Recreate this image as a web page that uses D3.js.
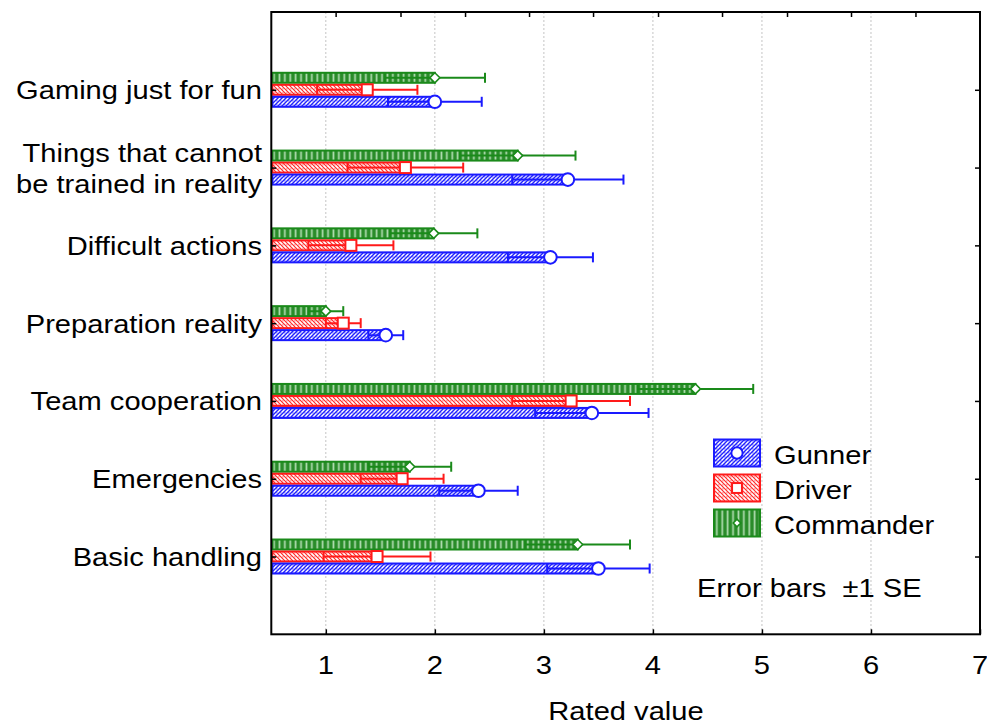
<!DOCTYPE html>
<html><head><meta charset="utf-8">
<script src="https://cdn.jsdelivr.net/npm/d3@7"></script>
<style>
html,body{margin:0;padding:0;background:#fff;}
svg text{font-family:"Liberation Sans",Arial,sans-serif;fill:#000;}
</style></head>
<body>
<svg id="chart" width="987" height="726"></svg>
<script>
// ---- data ----
const categories = ["Gaming just for fun", "Things that cannot\nbe trained in reality", "Difficult actions",
  "Preparation reality", "Team cooperation", "Emergencies", "Basic handling"];
const seriesNames = ["Gunner", "Driver", "Commander"];
const gunnerMean = [2.00, 3.22, 3.06, 1.55, 3.44, 2.40, 3.50];
const gunnerSE   = [0.43, 0.51, 0.39, 0.16, 0.52, 0.36, 0.47];
const driverMean = [1.38, 1.73, 1.23, 1.16, 3.25, 1.70, 1.47];
const driverSE   = [0.46, 0.53, 0.39, 0.16, 0.54, 0.38, 0.49];
const commanderMean = [2.00, 2.76, 1.99, 1.00, 4.39, 1.77, 3.31];
const commanderSE   = [0.46, 0.53, 0.40, 0.16, 0.53, 0.38, 0.48];
const xTicks = [1, 2, 3, 4, 5, 6, 7];
const topTicks = [1.09, 1.685, 2.277, 2.864, 3.451, 4.047, 4.634, 5.23, 5.817, 6.408];
const xTitle = "Rated value";
const noteText = "Error bars  \u00b11 SE";

// ---- layout ----
const svg = d3.select("#chart");
const L = 271.3, R = 980, T = 12, B = 634.3;
const FS = 26, SX = 1.12;
const x = d3.scaleLinear().domain([0.5, 7]).range([L, R]);
const y = d3.scalePoint().domain(categories).range([T, B]).padding(1);
const barH = 12;

const series = [
  {name: "Commander", mean: commanderMean, se: commanderSE, color: "#1a8a1a", fill: "url(#patG)", off: -1, marker: "diamond"},
  {name: "Driver", mean: driverMean, se: driverSE, color: "#ff1a1a", fill: "url(#patR)", off: 0, marker: "square"},
  {name: "Gunner", mean: gunnerMean, se: gunnerSE, color: "#1a1aff", fill: "url(#patB)", off: 1, marker: "circle"}
];

// patterns
const defs = svg.append("defs");
function hatch(id, col, dir, sw) {
  const p = defs.append("pattern").attr("id", id).attr("patternUnits", "userSpaceOnUse")
    .attr("width", 4).attr("height", 4);
  p.append("rect").attr("width", 4).attr("height", 4).attr("fill", "#fff");
  p.append("path").attr("d", dir > 0 ? "M-1,1 L1,-1 M0,4 L4,0 M3,5 L5,3" : "M-1,3 L1,5 M0,0 L4,4 M3,-1 L5,1")
    .attr("stroke", col).attr("stroke-width", sw);
  p.append("rect").attr("x", dir > 0 ? 0.4 : 2.4).attr("y", 0.4).attr("width", 1).attr("height", 1).attr("fill", col);
}
hatch("patB", "#2020ff", 1, 1.4);
hatch("patR", "#ff2a2a", -1, 1.2);
const pg = defs.append("pattern").attr("id", "patG").attr("patternUnits", "userSpaceOnUse")
  .attr("width", 5.4).attr("height", 10);
pg.append("rect").attr("width", 5.4).attr("height", 10).attr("fill", "#2a8c2a");
pg.append("rect").attr("x", 3.2).attr("width", 1.7).attr("height", 10).attr("fill", "#b0dcb0");

function txt(g, s, tx, ty, anchor) {
  return g.append("text").attr("transform", `translate(${tx},${ty}) scale(${SX},1)`)
    .attr("text-anchor", anchor || "start").attr("font-size", FS).text(s);
}

// gridlines
svg.append("g").selectAll("line").data(xTicks.filter(v => v < 7)).join("line")
  .attr("x1", d => x(d)).attr("x2", d => x(d)).attr("y1", T).attr("y2", B)
  .attr("stroke", "#c4c4c4").attr("stroke-width", 1).attr("stroke-dasharray", "2,2");

// bars
const gBars = svg.append("g");
series.forEach(s => {
  categories.forEach((c, i) => {
    const cy = y(c) + s.off * barH;
    gBars.append("rect").attr("x", x(0.5) + 1).attr("y", cy - barH / 2 + 1)
      .attr("width", x(s.mean[i]) - x(0.5) - 1).attr("height", barH - 2)
      .attr("fill", s.fill).attr("stroke", s.color).attr("stroke-width", 2);
  });
});
// error bars
series.forEach(s => {
  categories.forEach((c, i) => {
    const cy = y(c) + s.off * barH;
    const lo = x(s.mean[i] - s.se[i]), hi = x(s.mean[i] + s.se[i]);
    gBars.append("line").attr("x1", lo).attr("x2", hi).attr("y1", cy).attr("y2", cy)
      .attr("stroke", s.color).attr("stroke-width", 2);
    [lo, hi].forEach(px => gBars.append("line").attr("x1", px).attr("x2", px)
      .attr("y1", cy - 5).attr("y2", cy + 5).attr("stroke", s.color).attr("stroke-width", 2));
  });
});
function marker(g, type, cx, cy, col, scale) {
  if (type === "circle") {
    g.append("circle").attr("cx", cx).attr("cy", cy).attr("r", 6.3 * scale)
      .attr("fill", "#fff").attr("stroke", col).attr("stroke-width", 2);
  } else if (type === "square") {
    const h = 5.5 * scale;
    g.append("rect").attr("x", cx - h).attr("y", cy - h).attr("width", 2 * h).attr("height", 2 * h)
      .attr("fill", "#fff").attr("stroke", col).attr("stroke-width", 2);
  } else {
    const h = 5 * scale;
    g.append("path").attr("d", `M${cx - h},${cy} L${cx},${cy - h} L${cx + h},${cy} L${cx},${cy + h} Z`)
      .attr("fill", "#fff").attr("stroke", col).attr("stroke-width", 1.6);
  }
}
series.forEach(s => {
  categories.forEach((c, i) => {
    marker(gBars, s.marker, x(s.mean[i]), y(c) + s.off * barH, s.color, 1);
  });
});

// frame
svg.append("rect").attr("x", L).attr("y", T).attr("width", R - L).attr("height", B - T)
  .attr("fill", "none").attr("stroke", "#000").attr("stroke-width", 2);

// bottom axis ticks (inward) and labels
const xAxis = d3.axisBottom(x).tickValues(xTicks).tickSize(-5).tickFormat(d3.format("d"));
const gx = svg.append("g").attr("transform", `translate(0,${B})`).call(xAxis);
gx.select(".domain").remove();
gx.selectAll(".tick line").attr("stroke", "#000").attr("stroke-width", 1.5);
gx.selectAll(".tick text").remove();
xTicks.forEach(v => txt(svg, String(v), x(v), 674, "middle"));

// top axis ticks
const gt = svg.append("g").attr("transform", `translate(0,${T})`)
  .call(d3.axisTop(x).tickValues(topTicks).tickSize(-5).tickFormat(""));
gt.select(".domain").remove();
gt.selectAll(".tick line").attr("stroke", "#000").attr("stroke-width", 1.5);

// left & right ticks
const gl = svg.append("g").attr("transform", `translate(${L},0)`)
  .call(d3.axisLeft(y).tickSize(-5).tickFormat(""));
gl.select(".domain").remove();
gl.selectAll(".tick line").attr("stroke", "#000").attr("stroke-width", 1.5);
const gr = svg.append("g").attr("transform", `translate(${R},0)`)
  .call(d3.axisRight(y).tickSize(-5).tickFormat(""));
gr.select(".domain").remove();
gr.selectAll(".tick line").attr("stroke", "#000").attr("stroke-width", 1.5);

// category labels
categories.forEach(c => {
  const lines = c.split("\n");
  const lh = 31;
  lines.forEach((ln, k) => {
    const yy = y(c) + 9.5 + (k - (lines.length - 1) / 2) * lh;
    txt(svg, ln, 262, yy, "end");
  });
});

// x title
txt(svg, xTitle, 626, 720, "middle");

// legend
const legOrder = ["Gunner", "Driver", "Commander"];
legOrder.forEach((nm, k) => {
  const s = series.find(d => d.name === nm);
  const by = 439.5 + k * 35;
  svg.append("rect").attr("x", 714).attr("y", by).attr("width", 46).attr("height", 27)
    .attr("fill", s.fill).attr("stroke", s.color).attr("stroke-width", 2);
  marker(svg, s.marker, 737, by + 13.5, s.color, s.marker === "diamond" ? 0.75 : 0.9);
  txt(svg, nm, 774, by + 24);
});
txt(svg, noteText, 697, 597).attr("xml:space", "preserve").style("white-space", "pre");
</script>
</body></html>
